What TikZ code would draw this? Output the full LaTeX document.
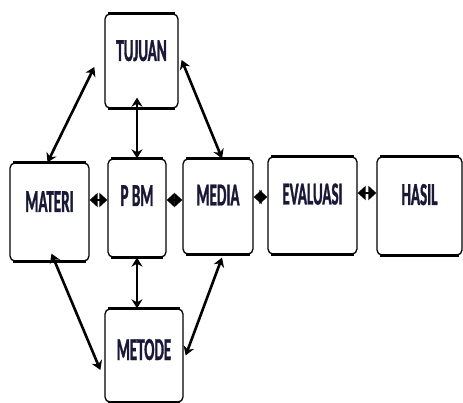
\documentclass[tikz,border=0pt]{standalone}
\usepackage{fontspec}
\usepackage{tikz}
\usetikzlibrary{arrows.meta}
\newfontfamily\boxfont[FakeStretch=0.47, FakeBold=1]{Carlito}
\definecolor{txtcol}{RGB}{25,25,55}
\tikzset{
  box/.style={draw, line width=1.3pt, rounded corners=5pt, inner sep=0pt,
    text depth=0pt, text height=0pt, font=\fontsize{32}{32}\boxfont\bfseries, text=txtcol},
  link/.style={line width=2.6pt, {Stealth[length=9pt,width=11pt]}-{Stealth[length=9pt,width=11pt]}},
  shortlink/.style={line width=2.6pt, {Triangle[length=8pt,width=14pt]}-{Triangle[length=8pt,width=14pt]}}
}
\begin{document}
\begin{tikzpicture}[x=1pt,y=-1pt]
    \useasboundingbox (0,0) rectangle (463,403);
\node[box, minimum width=73pt, minimum height=94pt] (tujuan) at (141.5, 61) {TUJUAN}; % Box.0
\node[box, minimum width=79pt, minimum height=98pt] (materi) at (49.5, 212) {MATERI}; % Box.1
\node[box, minimum width=58pt, minimum height=98pt, text depth=4pt] (pbm) at (137, 208) {P BM}; % Box.2
\node[box, minimum width=70pt, minimum height=95pt, text depth=2pt] (media) at (218, 206.5) {MEDIA}; % Box.3
\node[box, minimum width=89pt, minimum height=97pt, text depth=2pt] (evaluasi) at (312.5, 205.5) {EVALUASI}; % Box.4
\node[box, minimum width=85pt, minimum height=98pt, text depth=2pt] (hasil) at (419.5, 206) {HASIL}; % Box.5
\node[box, minimum width=78pt, minimum height=93pt, text height=9pt] (metode) at (144, 355.5) {METODE}; % Box.6
\foreach \b in {tujuan, materi, pbm, media, evaluasi, hasil, metode} {
  \draw[line width=2.8pt] ([xshift=4pt]\b.north west) -- ([xshift=-4pt]\b.north east) ; % edge
  \draw[line width=2.8pt] ([xshift=4pt]\b.south west) -- ([xshift=-4pt]\b.south east) ; % edge
}
\draw[link] ([xshift=-10pt, yshift=-6pt]tujuan.west) -- ([xshift=-2pt]materi.north) ; % tujuan-materi
\draw[link] ([yshift=11pt]tujuan.south -| pbm.north) -- (pbm.north) ; % tujuan-pbm
\draw[link] ([xshift=3pt, yshift=1pt]tujuan.east) -- ([xshift=4pt]media.north) ; % tujuan-media
\draw[shortlink] ([yshift=12pt]materi.east) -- ([yshift=12pt]materi.east -| pbm.west) ; % materi-pbm
\draw[shortlink] ([yshift=8pt]pbm.east) -- ([yshift=8pt]pbm.east -| media.west) ; % pbm-media
\draw[shortlink] ([yshift=9.5pt]media.east) -- ([yshift=9.5pt]media.east -| evaluasi.west) ; % media-evaluasi
\draw[shortlink] ([yshift=12.5pt]evaluasi.east) -- ([yshift=12.5pt]evaluasi.east -| hasil.west) ; % evaluasi-hasil
\draw[link] ([xshift=2pt, yshift=8pt]materi.south) -- ([xshift=-4pt, yshift=-14.5pt]metode.west) ; % materi-metode
\draw[link] (pbm.south) -- (pbm.south |- metode.north) ; % pbm-metode
\draw[link] ([xshift=4pt, yshift=-3pt]media.south) -- ([xshift=2pt]metode.east) ; % media-metode
    \end{tikzpicture}
\end{document}
